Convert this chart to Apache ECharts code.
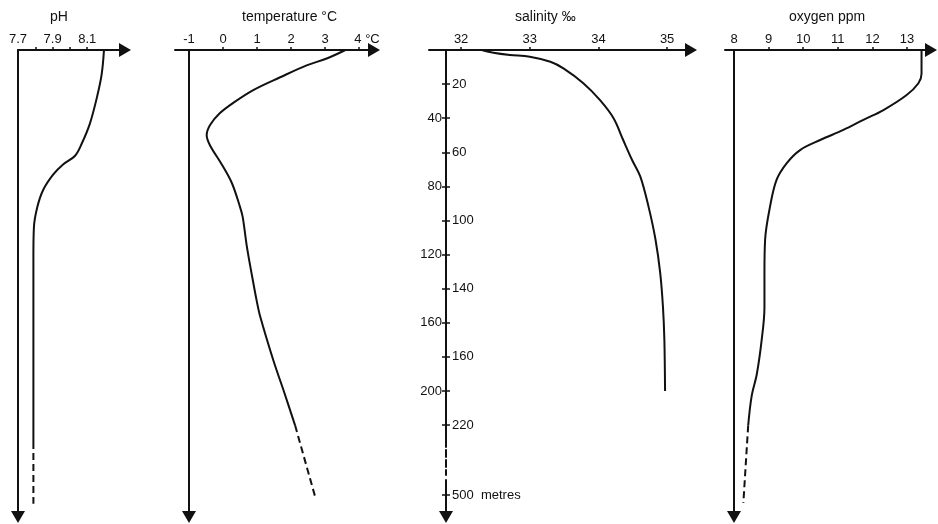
<!DOCTYPE html>
<html>
<head>
<meta charset="utf-8">
<script src="https://cdn.jsdelivr.net/npm/echarts@6.0.0/dist/echarts.min.js"></script>
<style>
html, body { margin: 0; padding: 0; background: #fff; }
#chart { width: 938px; height: 524px; }
</style>
</head>
<body>
<div id="chart"></div>
<script>
// depths in metres
const phDepth = [0, 14, 27, 43, 55, 62, 67, 73, 82, 92, 104, 121, 288];
const phValue = [8.197, 8.184, 8.158, 8.116, 8.068, 8.03, 7.962, 7.904, 7.846, 7.812, 7.792, 7.789, 7.789];
const phDashDepth = [288, 535];
const phDashValue = [7.789, 7.789];

const tempDepth = [0, 5, 9, 16, 23.5, 31, 37, 44, 50, 56, 67, 78, 92, 98, 115, 131, 147, 156, 182, 199, 221];
const tempValue = [3.6, 3.05, 2.46, 1.68, 0.89, 0.30, -0.09, -0.38, -0.48, -0.38, -0.04, 0.26, 0.5, 0.58, 0.70, 0.84, 0.99, 1.09, 1.48, 1.77, 2.12];
const tempDashDepth = [221, 507];
const tempDashValue = [2.12, 2.71];

const salDepth = [0, 1.6, 2.9, 3.9, 6.9, 10.8, 19.5, 29.3, 40, 52.8, 64.5, 74.3, 92, 111, 131, 151, 170, 200];
const salValue = [32.30, 32.47, 32.71, 33.0, 33.30, 33.49, 33.78, 34.02, 34.22, 34.36, 34.49, 34.61, 34.73, 34.83, 34.90, 34.94, 34.96, 34.97];

const oxDepth = [0, 14, 19.5, 26.4, 35.2, 41, 46.9, 52.8, 58.7, 66.5, 76.2, 92, 111, 131, 151, 170, 190, 203, 221];
const oxValue = [13.42, 13.42, 13.33, 12.99, 12.32, 11.74, 11.16, 10.49, 9.91, 9.52, 9.23, 9.04, 8.90, 8.88, 8.88, 8.80, 8.66, 8.51, 8.41];
const oxDashDepth = [221, 532];
const oxDashValue = [8.41, 8.27];

// axis ticks / labels
const phTicks = [7.8, 7.9, 8.0, 8.1];
const phLabels = [7.7, 7.9, 8.1];
const tempTicks = [0, 1, 2, 3, 4];
const tempLabels = [-1, 0, 1, 2, 3, 4];
const salTicks = [32, 33, 34, 35];
const oxTicks = [9, 10, 11, 12, 13];
const oxLabels = [8, 9, 10, 11, 12, 13];
const depthLeft = [40, 80, 120, 160, 200];
const depthRight = [20, 60, 100, 140, 180, 220, 500];
const depthRightText = ['20', '60', '100', '140', '160', '220', '500  metres'];

const ink = '#111';
const font = '"Liberation Sans", Arial, sans-serif';

// depth scale is broken below 220 m
function toAxis(d) {
	return d <= 220 ? d : 220 + (d - 220) * 41 / 280;
}

const gridTop = 50, gridHeight = 467, pxPerM = 1.705;
const yMax = gridHeight / pxPerM;

// left = start of top axis line, originPx = vertical axis, end = axis end
const panels = [
	{ left: 18, originPx: 18, origin: 7.7, ppu: 173, end: 125, ticks: phTicks, labels: phLabels, fmt: v => v.toFixed(1) },
	{ left: 175, originPx: 189, origin: -1, ppu: 34, end: 374, ticks: tempTicks, labels: tempLabels, fmt: v => Math.round(v) === 4 ? '{p| }4{u| °C}' : String(Math.round(v)) },
	{ left: 429, originPx: 446, origin: 31.78, ppu: 68.67, end: 691, ticks: salTicks, labels: salTicks, fmt: v => String(Math.round(v)) },
	{ left: 725, originPx: 734, origin: 8, ppu: 34.6, end: 931, ticks: oxTicks, labels: oxLabels, fmt: v => String(Math.round(v)) }
];

const yArrow = { symbol: ['triangle', 'none'], symbolSize: [14, 12] };

const grids = [], xAxes = [], yAxes = [];
const yIndex = [];
panels.forEach((p, i) => {
	grids.push({ left: p.left, top: gridTop, width: p.end - p.left, height: gridHeight });
	xAxes.push({
		gridIndex: i,
		type: 'value',
		position: 'top',
		min: p.origin - (p.originPx - p.left) / p.ppu,
		max: p.origin + (p.end - p.originPx) / p.ppu,
		axisLine: { onZero: false, lineStyle: { color: ink, width: 2 }, symbol: ['none', 'triangle'], symbolSize: [14, 12] },
		axisTick: { customValues: p.ticks, length: 3, lineStyle: { color: ink, width: 1.5 } },
		axisLabel: {
			customValues: p.labels, formatter: p.fmt, margin: 4,
			color: ink, fontSize: 13, fontFamily: font,
			rich: { p: { width: 16 }, u: { fontSize: 13, fontFamily: font, color: ink } }
		},
		splitLine: { show: false }
	});
	const base = {
		gridIndex: i,
		type: 'value',
		position: 'left',
		inverse: true,
		min: 0,
		max: yMax,
		offset: -(p.originPx - p.left),
		splitLine: { show: false },
		axisLine: Object.assign({ onZero: false, lineStyle: { color: ink, width: 2 } }, yArrow),
		axisTick: { show: false },
		axisLabel: { show: false }
	};
	yIndex.push(yAxes.length);
	if (i !== 2) {
		yAxes.push(base);
	} else {
		const allTicks = depthLeft.concat(depthRight).map(toAxis);
		yAxes.push(Object.assign({}, base, {
			axisLine: Object.assign({ onZero: false, lineStyle: { color: ink, width: 2, type: [397, 3, 7, 3, 7, 3, 5, 5, 500] } }, yArrow),
			axisTick: { show: true, customValues: allTicks, length: 4, lineStyle: { color: ink, width: 1.5 } },
			axisLabel: { show: true, customValues: depthLeft, margin: 4, color: ink, fontSize: 13, fontFamily: font, formatter: v => String(Math.round(v)) }
		}));
		yAxes.push(Object.assign({}, base, {
			axisLine: { show: false, onZero: false },
			axisTick: { show: true, inside: true, customValues: allTicks, length: 4, lineStyle: { color: ink, width: 1.5 } },
			axisLabel: {
				show: true, inside: true, customValues: depthRight.map(toAxis), margin: 6,
				color: ink, fontSize: 13, fontFamily: font,
				formatter: v => {
					const k = depthRight.findIndex(d => Math.abs(toAxis(d) - v) < 0.01);
					return k >= 0 ? depthRightText[k] : '';
				}
			}
		}));
	}
});

function pairs(values, depths) {
	return values.map((v, k) => [v, toAxis(depths[k])]);
}

function line(i, values, depths, dashed) {
	return {
		type: 'line',
		xAxisIndex: i,
		yAxisIndex: yIndex[i],
		data: pairs(values, depths),
		smooth: dashed ? false : 0.35,
		showSymbol: false,
		silent: true,
		lineStyle: { color: ink, width: 2, type: dashed ? [7, 4] : 'solid' }
	};
}

const series = [
	line(0, phValue, phDepth, false),
	line(0, phDashValue, phDashDepth, true),
	line(1, tempValue, tempDepth, false),
	line(1, tempDashValue, tempDashDepth, true),
	line(2, salValue, salDepth, false),
	line(3, oxValue, oxDepth, false),
	line(3, oxDashValue, oxDashDepth, true)
];

const titleStyle = { color: ink, fontSize: 14, fontWeight: 'normal', fontFamily: font };
const option = {
	animation: false,
	backgroundColor: '#fff',
	title: [
		{ text: 'pH', left: 50, top: 10, padding: 0, textStyle: titleStyle },
		{ text: 'temperature °C', left: 242, top: 10, padding: 0, textStyle: titleStyle },
		{ text: 'salinity ‰', left: 515, top: 10, padding: 0, textStyle: titleStyle },
		{ text: 'oxygen ppm', left: 789, top: 10, padding: 0, textStyle: titleStyle }
	],
	grid: grids,
	xAxis: xAxes,
	yAxis: yAxes,
	series: series
};

const myChart = echarts.init(document.getElementById('chart'));
myChart.setOption(option);
</script>
</body>
</html>
